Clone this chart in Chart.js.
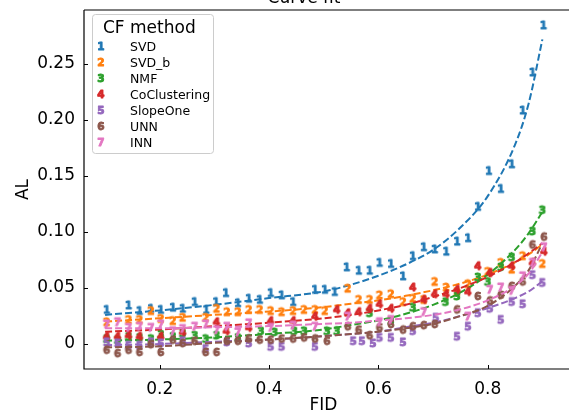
<!DOCTYPE html>
<html><head><meta charset="utf-8">
<script src="https://cdn.jsdelivr.net/npm/chart.js@4/dist/chart.umd.min.js"></script>
<style>html,body{margin:0;padding:0;background:#fff;overflow:hidden;width:569px;height:414px}#wrap{width:569px;height:414px;position:relative;overflow:hidden}#c{display:block}</style>
</head><body><div id="wrap"><canvas id="c"></canvas></div>
<script>
const methods = ['SVD','SVD_b','NMF','CoClustering','SlopeOne','UNN','INN'];
const markers = ['1','2','3','4','5','6','7'];
const colors = ['#1f77b4','#ff7f0e','#2ca02c','#d62728','#9467bd','#8c564b','#e377c2'];

const svdX = [0.103,0.143,0.163,0.184,0.202,0.224,0.242,0.264,0.285,0.303,0.321,0.343,0.363,0.383,0.403,0.423,0.444,0.484,0.502,0.520,0.542,0.564,0.584,0.602,0.623,0.645,0.663,0.683,0.703,0.724,0.744,0.764,0.782,0.802,0.824,0.844,0.864,0.882,0.902];
const svdY = [0.030,0.034,0.029,0.031,0.030,0.032,0.031,0.037,0.030,0.037,0.045,0.036,0.040,0.039,0.045,0.043,0.037,0.048,0.048,0.046,0.068,0.065,0.065,0.072,0.071,0.060,0.078,0.086,0.084,0.082,0.091,0.094,0.122,0.154,0.138,0.160,0.208,0.242,0.284];

const svdbX = [0.103,0.143,0.163,0.184,0.202,0.224,0.242,0.284,0.304,0.323,0.343,0.363,0.383,0.403,0.423,0.444,0.464,0.484,0.502,0.544,0.564,0.584,0.602,0.623,0.645,0.663,0.683,0.703,0.724,0.744,0.764,0.800,0.824,0.844,0.864,0.900];
const svdbY = [0.019,0.021,0.021,0.029,0.022,0.020,0.023,0.023,0.031,0.028,0.028,0.030,0.030,0.029,0.028,0.029,0.030,0.030,0.029,0.049,0.039,0.039,0.043,0.044,0.037,0.040,0.039,0.055,0.050,0.046,0.053,0.064,0.072,0.066,0.078,0.071];

const nmfX = [0.103,0.123,0.143,0.163,0.184,0.202,0.224,0.242,0.264,0.284,0.304,0.343,0.385,0.410,0.446,0.464,0.506,0.524,0.584,0.623,0.663,0.723,0.744,0.782,0.800,0.824,0.844,0.882,0.900];
const nmfY = [0.004,0.003,0.006,0.005,0.004,0.008,0.006,0.009,0.007,0.004,0.007,0.005,0.011,0.010,0.011,0.011,0.011,0.011,0.027,0.020,0.032,0.037,0.042,0.059,0.055,0.068,0.077,0.100,0.119];

const coX = [0.103,0.123,0.143,0.163,0.202,0.242,0.304,0.322,0.363,0.403,0.444,0.484,0.524,0.544,0.564,0.584,0.602,0.623,0.663,0.683,0.703,0.724,0.744,0.764,0.782,0.804,0.844,0.882,0.903];
const coY = [0.006,0.006,0.007,0.006,0.006,0.010,0.019,0.011,0.014,0.020,0.020,0.024,0.030,0.027,0.028,0.031,0.035,0.031,0.050,0.039,0.044,0.044,0.048,0.046,0.069,0.063,0.069,0.072,0.082];

const soX = [0.103,0.123,0.143,0.163,0.184,0.202,0.242,0.284,0.323,0.363,0.403,0.423,0.484,0.554,0.570,0.590,0.602,0.623,0.645,0.663,0.705,0.744,0.764,0.782,0.804,0.824,0.844,0.864,0.882,0.900];
const soY = [0.001,0.000,-0.002,-0.002,0.001,0.000,0.002,-0.005,0.001,0.000,-0.003,-0.003,-0.003,0.002,0.002,0.000,0.005,0.005,0.001,0.011,0.023,0.006,0.015,0.027,0.031,0.021,0.037,0.035,0.061,0.054];

const unnX = [0.103,0.123,0.143,0.163,0.184,0.202,0.224,0.242,0.264,0.284,0.304,0.323,0.343,0.363,0.383,0.403,0.423,0.444,0.464,0.484,0.506,0.544,0.564,0.584,0.602,0.623,0.645,0.663,0.683,0.703,0.744,0.782,0.804,0.824,0.844,0.864,0.882,0.903];
const unnY = [-0.006,-0.009,-0.006,-0.008,-0.001,-0.008,0.003,0.000,0.002,-0.008,-0.008,0.002,0.002,0.004,0.003,0.003,0.004,0.004,0.005,0.004,0.002,0.015,0.012,0.007,0.014,0.017,0.012,0.015,0.016,0.017,0.030,0.042,0.038,0.043,0.051,0.055,0.088,0.095];

const innX = [0.103,0.123,0.143,0.163,0.184,0.202,0.224,0.242,0.264,0.284,0.304,0.323,0.343,0.363,0.403,0.444,0.484,0.544,0.602,0.623,0.683,0.764,0.804,0.824,0.844,0.864,0.882,0.903];
const innY = [0.017,0.019,0.014,0.015,0.014,0.017,0.011,0.013,0.015,0.017,0.012,0.015,0.010,0.018,0.014,0.016,0.015,0.024,0.019,0.021,0.028,0.024,0.048,0.050,0.047,0.060,0.072,0.086];

// fitted dashed curves
const fitX   = [0.10,0.20,0.30,0.40,0.50,0.55,0.60,0.65,0.70,0.75,0.80,0.85,0.875,0.90];
const svdFit = [0.026,0.030,0.035,0.041,0.047,0.053,0.061,0.071,0.084,0.104,0.132,0.178,0.215,0.272];
const svdbFit= [0.020,0.023,0.026,0.029,0.033,0.036,0.039,0.043,0.048,0.054,0.062,0.073,0.080,0.089];
const nmfFit = [0.003,0.004,0.006,0.009,0.013,0.017,0.021,0.027,0.035,0.046,0.062,0.084,0.099,0.118];
const coFit  = [0.011,0.013,0.016,0.019,0.023,0.026,0.030,0.035,0.042,0.050,0.060,0.073,0.081,0.090];
const soFit  = [-0.001,0.000,0.002,0.004,0.007,0.009,0.011,0.015,0.019,0.025,0.032,0.041,0.047,0.056];
const unnFit = [-0.003,-0.002,0.001,0.004,0.007,0.009,0.011,0.014,0.018,0.025,0.034,0.052,0.066,0.090];
const innFit = [0.014,0.014,0.015,0.016,0.018,0.019,0.021,0.023,0.026,0.031,0.039,0.052,0.063,0.082];

const xTicks = [0.2,0.4,0.6,0.8];
const yTicks = [0,0.05,0.10,0.15,0.20,0.25];

const seriesX = [svdX,svdbX,nmfX,coX,soX,unnX,innX];
const seriesY = [svdY,svdbY,nmfY,coY,soY,unnY,innY];
const fits = [svdFit,svdbFit,nmfFit,coFit,soFit,unnFit,innFit];

const FONT = '"DejaVu Sans", "Liberation Sans", sans-serif';

function makeMarker(ch, color, size) {
  const c = document.createElement('canvas');
  c.width = 16; c.height = 16;
  const g = c.getContext('2d');
  g.font = 'bold ' + size + 'px ' + FONT;
  g.textAlign = 'center'; g.textBaseline = 'middle';
  g.fillStyle = color; g.strokeStyle = color; g.lineWidth = 0.9; g.lineJoin = 'round';
  g.strokeText(ch, 8, 8.5);
  g.fillText(ch, 8, 8.5);
  return c;
}
const markerImgs = markers.map((m,i)=>makeMarker(m, colors[i], 10.5));

const zip = (xs, ys) => xs.map((x,i)=>({x, y: ys[i]}));

const datasets = [];
methods.forEach((m,i)=>{
  datasets.push({
    type:'scatter', label:m, data: zip(seriesX[i], seriesY[i]),
    pointStyle: markerImgs[i], pointRadius: 5, showLine:false,
    order: 20 - 2*i
  });
  datasets.push({
    type:'line', label:m+' fit', data: zip(fitX, fits[i]),
    borderColor: colors[i], borderWidth: 2, borderDash:[7,3],
    pointRadius:0, fill:false, cubicInterpolationMode:'monotone', tension:0.4,
    order: 19 - 2*i
  });
});

const framePlugin = {
  id:'frame',
  afterDraw(chart){
    const {ctx, chartArea:a, scales:{x, y}} = chart;
    const W = chart.width;
    ctx.save();
    // keep right edge open (no right spine in the reference)
    ctx.fillStyle = '#fff';
    ctx.fillRect(W - 4, a.top + 2, 4, a.bottom - a.top - 4);
    ctx.strokeStyle = '#000'; ctx.lineWidth = 1.2;
    ctx.beginPath();
    ctx.moveTo(a.left, a.top); ctx.lineTo(W, a.top);
    ctx.moveTo(a.left, a.top); ctx.lineTo(a.left, a.bottom); ctx.lineTo(W, a.bottom);
    ctx.stroke();
    ctx.lineWidth = 1;
    ctx.beginPath();
    xTicks.forEach(v=>{ const p = Math.round(x.getPixelForValue(v))+0.5; ctx.moveTo(p, a.bottom); ctx.lineTo(p, a.bottom-4); });
    yTicks.forEach(v=>{ const p = Math.round(y.getPixelForValue(v))+0.5; ctx.moveTo(a.left, p); ctx.lineTo(a.left+4, p); });
    ctx.stroke();

    // cut-off title
    ctx.fillStyle = '#000';
    ctx.font = '17px ' + FONT;
    ctx.textAlign = 'center'; ctx.textBaseline = 'alphabetic';
    ctx.fillText('Curve fit', 304, 3);

    // legend
    const lx = 92.5, ly = 14.5, lw = 121, lh = 139;
    ctx.beginPath();
    ctx.roundRect(lx, ly, lw, lh, 3);
    ctx.fillStyle = 'rgba(255,255,255,0.85)'; ctx.fill();
    ctx.strokeStyle = '#cccccc'; ctx.lineWidth = 1; ctx.stroke();
    ctx.fillStyle = '#000';
    ctx.textAlign = 'left'; ctx.textBaseline = 'middle';
    ctx.font = '17px ' + FONT;
    ctx.fillText('CF method', 103, 29);
    ctx.font = '12.5px ' + FONT;
    methods.forEach((m,i)=>{
      const cy = 47 + i*16;
      ctx.drawImage(markerImgs[i], 101-8, cy-8);
      ctx.fillStyle = '#000';
      ctx.fillText(m, 130, cy+0.5);
    });
    ctx.restore();
  }
};

new Chart(document.getElementById('c'), {
  data: { datasets },
  options: {
    responsive:true, maintainAspectRatio:false, animation:false, devicePixelRatio:1,
    layout:{ padding:{ top:10, right:0, left:0, bottom:0 } },
    plugins:{ legend:{display:false}, tooltip:{enabled:false}, title:{display:false} },
    scales:{
      x:{ type:'linear', min:0.0614, max:0.9377,
        afterFit(s){ s.height = 45; s.paddingLeft = 0; s.paddingRight = 0; },
        afterBuildTicks(s){ s.ticks = xTicks.map(v=>({value:v})); },
        grid:{ display:false, drawTicks:false }, border:{ display:false },
        ticks:{ padding:10, color:'#000', font:{ family: FONT, size:17 }, callback:v=>v.toFixed(1), maxRotation:0 },
        title:{ display:true, text:'FID', color:'#000', font:{ family: FONT, size:17 }, padding:{top:0,bottom:-2} }
      },
      y:{ type:'linear', min:-0.0223, max:0.2982,
        afterFit(s){ s.width = 84; s.paddingTop = 0; s.paddingBottom = 0; },
        afterBuildTicks(s){ s.ticks = yTicks.map(v=>({value:v})); },
        grid:{ display:false, drawTicks:false }, border:{ display:false },
        ticks:{ padding:9, color:'#000', font:{ family: FONT, size:17 }, callback:v=> v===0 ? '0' : v.toFixed(2) },
        title:{ display:true, text:'AL', color:'#000', font:{ family: FONT, size:17 }, padding:{top:13,bottom:0} }
      }
    }
  },
  plugins:[framePlugin]
});
</script>
</body></html>
